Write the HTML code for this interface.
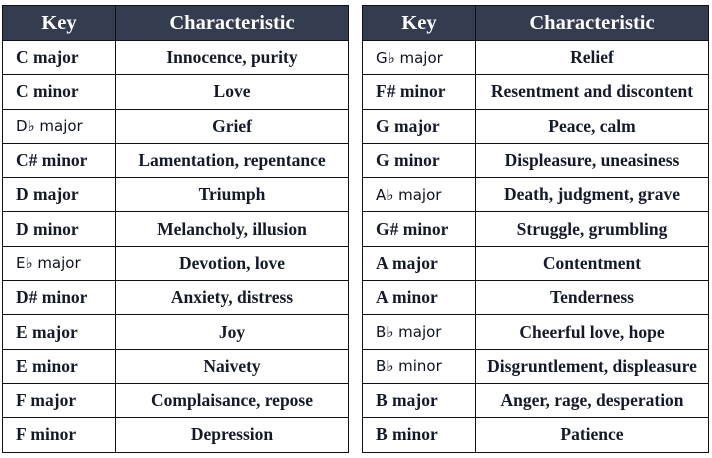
<!DOCTYPE html>
<html><head><meta charset="utf-8"><style>
body{margin:0;width:712px;height:458px;background:#fff;overflow:hidden;position:relative}
table{position:absolute;top:5px;border-collapse:collapse;table-layout:fixed;font-family:"Liberation Serif",serif;font-weight:bold;color:#141a2a}
td,th{border:1.5px solid #111;padding:0;text-align:center;white-space:nowrap}
th{background:#343d4f;color:#fff;font-size:20.5px;height:34px}
td{height:33.3px;font-size:17.5px}
td.k{text-align:left;padding-left:13px}
.s{font-family:"DejaVu Sans",sans-serif;font-weight:normal;font-size:15px;color:#0d1220}
</style></head><body>
<table style="left:2px;width:347px">
<colgroup><col style="width:113px"><col></colgroup>
<tr><th>Key</th><th>Characteristic</th></tr>
<tr><td class="k">C major</td><td>Innocence, purity</td></tr>
<tr><td class="k">C minor</td><td>Love</td></tr>
<tr><td class="k s">D♭ major</td><td>Grief</td></tr>
<tr><td class="k">C# minor</td><td>Lamentation, repentance</td></tr>
<tr><td class="k">D major</td><td>Triumph</td></tr>
<tr><td class="k">D minor</td><td>Melancholy, illusion</td></tr>
<tr><td class="k s">E♭ major</td><td>Devotion, love</td></tr>
<tr><td class="k">D# minor</td><td>Anxiety, distress</td></tr>
<tr><td class="k">E major</td><td>Joy</td></tr>
<tr><td class="k">E minor</td><td>Naivety</td></tr>
<tr><td class="k">F major</td><td>Complaisance, repose</td></tr>
<tr><td class="k">F minor</td><td>Depression</td></tr>
</table>
<table style="left:362px;width:347px">
<colgroup><col style="width:113px"><col></colgroup>
<tr><th>Key</th><th>Characteristic</th></tr>
<tr><td class="k s">G♭ major</td><td>Relief</td></tr>
<tr><td class="k">F# minor</td><td>Resentment and discontent</td></tr>
<tr><td class="k">G major</td><td>Peace, calm</td></tr>
<tr><td class="k">G minor</td><td>Displeasure, uneasiness</td></tr>
<tr><td class="k s">A♭ major</td><td>Death, judgment, grave</td></tr>
<tr><td class="k">G# minor</td><td>Struggle, grumbling</td></tr>
<tr><td class="k">A major</td><td>Contentment</td></tr>
<tr><td class="k">A minor</td><td>Tenderness</td></tr>
<tr><td class="k s">B♭ major</td><td>Cheerful love, hope</td></tr>
<tr><td class="k s">B♭ minor</td><td>Disgruntlement, displeasure</td></tr>
<tr><td class="k">B major</td><td>Anger, rage, desperation</td></tr>
<tr><td class="k">B minor</td><td>Patience</td></tr>
</table>
</body></html>
